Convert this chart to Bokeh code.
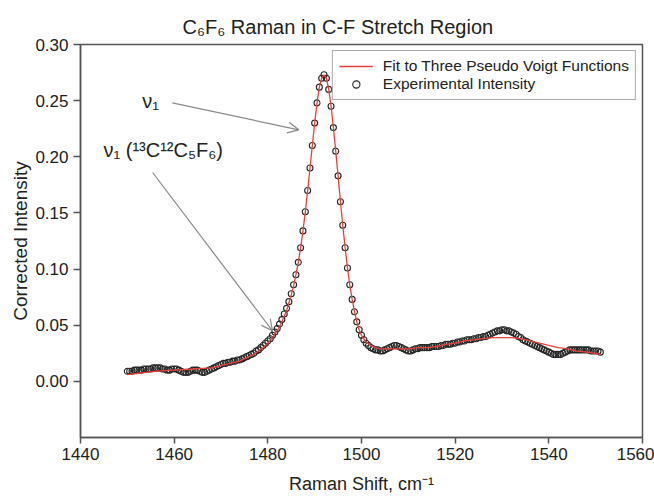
import numpy as np
from bokeh.plotting import figure
from bokeh.models import (ColumnDataSource, FixedTicker, Legend, LegendItem, Label,
                          Arrow, OpenHead, Range1d, NumeralTickFormatter)
from bokeh.embed import file_html
from bokeh.resources import INLINE

# ---------------- data ----------------
exp_x = np.arange(1450.0, 1551.01, 0.5)   # regular 0.5 cm-1 sampling
exp_y = [
    0.009, 0.009, 0.009, 0.010, 0.010, 0.010, 0.010, 0.011, 0.011, 0.011,
    0.011, 0.012, 0.012, 0.012, 0.012, 0.011, 0.011, 0.010, 0.010, 0.011,
    0.011, 0.011, 0.010, 0.009, 0.008, 0.008, 0.008, 0.009, 0.010, 0.010,
    0.010, 0.009, 0.008, 0.008, 0.009, 0.010, 0.011, 0.012, 0.013, 0.014,
    0.015, 0.016, 0.016, 0.017, 0.017, 0.018, 0.018, 0.019, 0.019, 0.020,
    0.021, 0.022, 0.023, 0.024, 0.025, 0.027, 0.028, 0.030, 0.032, 0.034,
    0.036, 0.038, 0.041, 0.044, 0.047, 0.051, 0.055, 0.060, 0.065, 0.071,
    0.078, 0.086, 0.095, 0.106, 0.119, 0.134, 0.151, 0.170, 0.190, 0.210,
    0.230, 0.248, 0.262, 0.270, 0.273, 0.270, 0.260, 0.245, 0.226, 0.205,
    0.183, 0.160, 0.139, 0.119, 0.101, 0.086, 0.073, 0.062, 0.053, 0.046,
    0.041, 0.037, 0.034, 0.032, 0.030, 0.029, 0.028, 0.028, 0.027, 0.027,
    0.028, 0.029, 0.030, 0.031, 0.032, 0.032, 0.031, 0.030, 0.029, 0.028,
    0.027, 0.027, 0.028, 0.029, 0.029, 0.030, 0.030, 0.030, 0.030, 0.030,
    0.031, 0.031, 0.031, 0.031, 0.032, 0.032, 0.033, 0.033, 0.033, 0.034,
    0.034, 0.035, 0.035, 0.036, 0.036, 0.037, 0.037, 0.037, 0.038, 0.038,
    0.039, 0.039, 0.040, 0.040, 0.041, 0.042, 0.043, 0.044, 0.045, 0.045,
    0.046, 0.046, 0.045, 0.045, 0.044, 0.043, 0.042, 0.040, 0.039, 0.037,
    0.036, 0.035, 0.034, 0.033, 0.032, 0.031, 0.030, 0.029, 0.028, 0.027,
    0.026, 0.025, 0.024, 0.024, 0.024, 0.024, 0.025, 0.026, 0.027, 0.028,
    0.028, 0.028, 0.028, 0.028, 0.028, 0.028, 0.028, 0.028, 0.027, 0.027,
    0.027, 0.027, 0.026,
]

fit_x = [1450, 1452, 1454, 1456, 1458, 1460, 1462, 1464, 1466, 1468,
         1470, 1472, 1474, 1476, 1477, 1478, 1479, 1480, 1481, 1482,
         1483, 1484, 1484.5, 1485, 1485.5, 1486, 1486.5, 1487, 1487.5, 1488,
         1488.5, 1489, 1489.5, 1490, 1490.5, 1491, 1491.5, 1492, 1492.5, 1493,
         1493.5, 1494, 1494.5, 1495, 1495.5, 1496, 1496.5, 1497, 1497.5, 1498,
         1498.5, 1499, 1499.5, 1500, 1501, 1502, 1503, 1504, 1506, 1508,
         1510, 1512, 1514, 1516, 1518, 1520, 1522, 1524, 1526, 1528,
         1530, 1532, 1534, 1536, 1538, 1540, 1542, 1544, 1546, 1548,
         1550, 1551]
fit_y = [0.006, 0.007, 0.008, 0.009, 0.0095, 0.010, 0.0105, 0.011, 0.0115, 0.012,
         0.014, 0.016, 0.018, 0.022, 0.024, 0.027, 0.030, 0.034, 0.039, 0.045,
         0.053, 0.063, 0.070, 0.077, 0.085, 0.095, 0.106, 0.119, 0.134, 0.151,
         0.170, 0.190, 0.210, 0.230, 0.248, 0.262, 0.270, 0.273, 0.270, 0.260,
         0.245, 0.226, 0.205, 0.183, 0.160, 0.139, 0.119, 0.101, 0.086, 0.073,
         0.062, 0.053, 0.046, 0.041, 0.035, 0.032, 0.030, 0.029, 0.029, 0.029,
         0.029, 0.030, 0.030, 0.031, 0.033, 0.034, 0.036, 0.037, 0.038, 0.039,
         0.039, 0.039, 0.038, 0.036, 0.034, 0.032, 0.030, 0.029, 0.027, 0.026,
         0.025, 0.024]

x_ticks = [1440, 1460, 1480, 1500, 1520, 1540, 1560]
y_ticks = [0.00, 0.05, 0.10, 0.15, 0.20, 0.25, 0.30]

title_text = "C\u2086F\u2086 Raman in C-F Stretch Region"
x_label = "Raman Shift, cm\u207b\u00b9"
y_label = "Corrected Intensity"
fit_label = "Fit to Three Pseudo Voigt Functions"
exp_label = "Experimental Intensity"
ann1_text = "\u03bd\u2081"
ann2_text = "\u03bd\u2081 (\u00b9\u00b3C\u00b9\u00b2C\u2085F\u2086)"

FONT = "Liberation Sans"
FRAME = "#555555"
TXT = "#222222"

# ---------------- figure ----------------
p = figure(width=654, height=496, output_backend="svg", toolbar_location=None,
           x_range=Range1d(1440, 1560), y_range=Range1d(-0.05, 0.30),
           min_border_left=80, min_border_right=12, min_border_top=44, min_border_bottom=58)
p.background_fill_color = "white"
p.border_fill_color = "white"
p.xgrid.visible = False
p.ygrid.visible = False
p.outline_line_color = FRAME
p.outline_line_width = 1.5

p.title.text = title_text
p.title.align = "left"
p.title.vertical_align = "top"
p.title.offset = 102
p.title.text_font = FONT
p.title.text_font_size = "20px"
p.title.text_font_style = "normal"
p.title.text_color = TXT

src_exp = ColumnDataSource(dict(x=exp_x, y=exp_y))
src_fit = ColumnDataSource(dict(x=fit_x, y=fit_y))

r_exp = p.scatter("x", "y", source=src_exp, size=6, marker="circle",
                  fill_color=None, line_color="#262626", line_width=1.1)
r_fit = p.line("x", "y", source=src_fit, line_color="#e8413c", line_width=1.3)

for ax in (p.xaxis[0], p.yaxis[0]):
    ax.axis_line_color = FRAME
    ax.axis_line_width = 1.5
    ax.major_tick_line_color = FRAME
    ax.major_tick_line_width = 1.5
    ax.major_tick_in = 0
    ax.minor_tick_line_color = None
    ax.major_label_text_font = FONT
    ax.major_label_text_font_size = "17px"
    ax.major_label_text_color = TXT
    ax.axis_label_text_font = FONT
    ax.axis_label_text_font_style = "normal"
    ax.axis_label_text_color = TXT

p.xaxis[0].ticker = FixedTicker(ticks=x_ticks)
p.xaxis[0].major_tick_out = 6
p.xaxis[0].major_label_standoff = 4
p.xaxis[0].axis_label = x_label
p.xaxis[0].axis_label_text_font_size = "18px"
p.xaxis[0].axis_label_standoff = 11

p.yaxis[0].ticker = FixedTicker(ticks=y_ticks)
p.yaxis[0].formatter = NumeralTickFormatter(format="0.00")
p.yaxis[0].major_tick_out = 7
p.yaxis[0].major_label_standoff = 5
p.yaxis[0].axis_label = y_label
p.yaxis[0].axis_label_text_font_size = "19px"
p.yaxis[0].axis_label_standoff = 1

legend = Legend(items=[LegendItem(label=fit_label, renderers=[r_fit]),
                       LegendItem(label=exp_label, renderers=[r_exp])],
                location="top_right")
legend.label_text_font = FONT
legend.label_text_font_size = "15.5px"
legend.label_text_color = TXT
legend.border_line_color = FRAME
legend.border_line_width = 1.5
legend.background_fill_color = "white"
legend.background_fill_alpha = 1
legend.glyph_width = 34
legend.glyph_height = 18
legend.label_height = 18
legend.label_standoff = 10
legend.padding = 6
legend.spacing = 0
legend.margin = 6
p.add_layout(legend)

# annotations
ARROW_C = "#8a8a8a"
p.add_layout(Arrow(end=OpenHead(size=11, line_color=ARROW_C, line_width=1.2),
                   x_start=1459.6, y_start=0.248, x_end=1486.6, y_end=0.224,
                   line_color=ARROW_C, line_width=1.2))
p.add_layout(Arrow(end=OpenHead(size=11, line_color=ARROW_C, line_width=1.2),
                   x_start=1455.4, y_start=0.186, x_end=1481.0, y_end=0.045,
                   line_color=ARROW_C, line_width=1.2))
p.add_layout(Label(x=1453.2, y=0.250, text=ann1_text, text_font=FONT,
                   text_font_size="20px", text_color=TXT, text_baseline="middle"))
p.add_layout(Label(x=1444.9, y=0.206, text=ann2_text, text_font=FONT,
                   text_font_size="20px", text_color=TXT, text_baseline="middle"))

open("out.html", "w").write(file_html(p, INLINE))
